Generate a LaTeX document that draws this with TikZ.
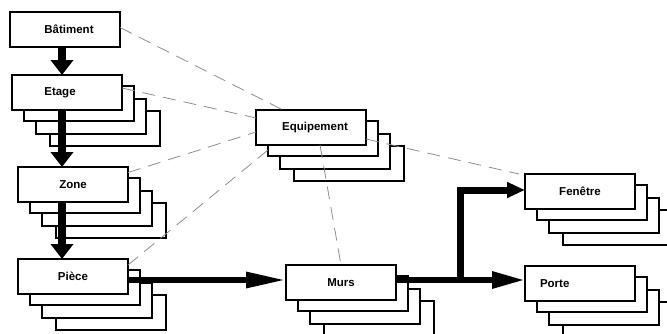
\documentclass[tikz,border=0pt]{standalone}
\usepackage{fontspec}
\setmainfont{Liberation Sans}
\usetikzlibrary{arrows.meta}
\tikzset{
  box/.style={draw=black, fill=white, line width=2pt, minimum width=110pt, minimum height=35pt,
    inner sep=0pt, outer sep=0pt, font=\fontsize{11.5}{13}\selectfont\bfseries},
  backbox/.style={draw=black, fill=white, line width=2pt},
  vthick/.style={line width=8pt, -{Triangle[length=15pt,width=22pt]}},
  hthick/.style={line width=6pt},
  dashlink/.style={draw=black!45, line width=0.8pt, dash pattern=on 13pt off 8pt},
}
\newcommand{\stackboxes}[2]{%
  \foreach \dx/\dy in {38/36,24/24,12/11}{
    \draw[backbox] ({#1-55+\dx},{#2-17.5+\dy}) rectangle ({#1+55+\dx},{#2+17.5+\dy});
  }}
\begin{document}
\begin{tikzpicture}[x=1pt,y=-1pt]
\useasboundingbox (0,0) rectangle (667,333);
% stacked copies
\stackboxes{67}{92.5}
\stackboxes{73}{184.5}
\stackboxes{73}{276.5}
\stackboxes{311}{127.5}
\stackboxes{341}{282.5}
\stackboxes{580}{191.5}
\stackboxes{580}{283.5}
% front boxes
\node[box] (batiment) at (65,29.5) {\hspace*{8pt}Bâtiment};
\node[box] (etage) at (67,92.5) {Etage\hspace*{14pt}};
\node[box] (zone) at (73,184.5) {Zone};
\node[box] (piece) at (73,276.5) {Pièce};
\node[box] (equip) at (311,127.5) {\hspace*{8pt}Equipement};
\node[box] (murs) at (341,282.5) {Murs};
\node[box] (fenetre) at (580,191.5) {Fenêtre};
\node[box, text width=80pt, align=left] (porte) at (580,283.5) {Porte};
% dashed links
\draw[dashlink] ([yshift=2pt]batiment.east) -- ([xshift=27pt]equip.north west);
\draw[dashlink] ([yshift=4.5pt]etage.east) -- ([yshift=9.5pt]equip.west);
\draw[dashlink] ([yshift=12pt]zone.east) -- ([yshift=-4.5pt]equip.west);
\draw[dashlink] ([yshift=11.5pt]piece.east) -- ([xshift=12pt,yshift=-5pt]equip.south west);
\draw[dashlink] ([xshift=9pt]equip.south) -- (murs.north);
\draw[dashlink] ([yshift=-11.5pt]equip.east) -- ([xshift=-6pt]fenetre.north west);
% thick arrows
\coordinate (arrx) at (62,0);
\coordinate (branch) at (460,280);
\draw[vthick] (batiment.south -| arrx) -- (etage.north -| arrx);
\draw[vthick] (etage.south -| arrx) -- (zone.north -| arrx);
\draw[vthick] (zone.south -| arrx) -- (piece.north -| arrx);
\draw[hthick, -{Triangle[length=40pt,width=15pt]}] ([yshift=-3.5pt]piece.east) -- ([yshift=2.5pt]murs.west);
\draw[hthick, -{Triangle[length=33pt,width=16pt]}] ([yshift=2.5pt]murs.east) -- ([yshift=3.5pt]porte.west);
\draw[hthick, line width=7pt, -{Triangle[length=18pt,width=15pt]}] (branch) |- ([yshift=1.5pt]fenetre.west);
\end{tikzpicture}
\end{document}
